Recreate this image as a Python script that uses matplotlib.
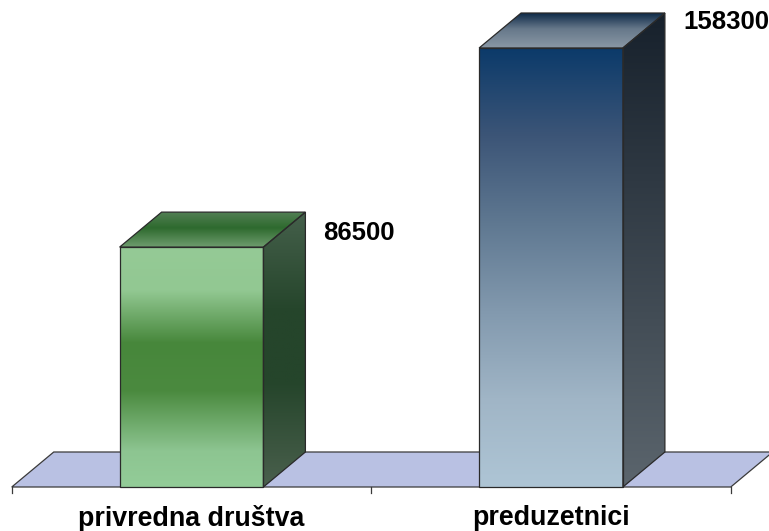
import numpy as np
import matplotlib
matplotlib.use("Agg")
import matplotlib.pyplot as plt
from matplotlib.patches import Polygon
from matplotlib.colors import to_rgb

categories = ["privredna društva", "preduzetnici"]
values = [86500, 158300]
value_labels = ["86500", "158300"]

# colour stops (position from bottom 0 -> top 1)
front_stops = [
    [(0.0, "#93CC98"), (0.15, "#8DC591"), (0.40, "#4B8A3F"), (0.60, "#47873B"),
     (0.82, "#92C892"), (1.0, "#95CA96")],
    [(0.0, "#AEC5D5"), (0.2, "#A0B5C6"), (0.4, "#8299AE"), (0.6, "#5F7891"),
     (0.8, "#3C5577"), (1.0, "#0B3A6A")],
]
side_stops = [
    [(0.0, "#4A604D"), (0.38, "#25452B"), (0.64, "#25452B"), (1.0, "#45604B")],
    [(0.0, "#5B656D"), (1.0, "#17212C")],
]
top_stops = [
    [(0.0, "#6E9C6E"), (0.55, "#2E6A2E"), (1.0, "#527F54")],
    [(0.0, "#8A98A5"), (0.55, "#66788A"), (1.0, "#0E2A48")],
]

fig = plt.figure(figsize=(7.69, 5.31), dpi=100)
ax = fig.add_axes([0, 0, 1, 1])
ax.set_axis_off()

# scales (value axis and category axis)
px_per_val = 439.0 / 158300
ytop = 158300 + 48 / px_per_val
ybot = -44 / px_per_val
px_per_cat = 359.5
x_left = -191.5 / px_per_cat
x_right = x_left + 769 / px_per_cat
ax.set_xlim(x_left, x_right)
ax.set_ylim(ybot, ytop)

dx = 42 / px_per_cat       # depth offset in x
dy = 35 / px_per_val       # depth offset in y
bw = 0.4                   # bar width


def grad_fill(poly_xy, stops, edge="#2a2a2a", z=2):
    poly_xy = np.asarray(poly_xy)
    xmin, ymin = poly_xy.min(axis=0)
    xmax, ymax = poly_xy.max(axis=0)
    n = 256
    t = np.linspace(0, 1, n)
    pos = [s[0] for s in stops]
    cols = np.array([to_rgb(s[1]) for s in stops])
    img = np.stack([np.interp(t, pos, cols[:, k]) for k in range(3)], axis=1)
    img = img[:, None, :]
    patch = Polygon(poly_xy, closed=True, facecolor="none", edgecolor=edge,
                    linewidth=0.9, zorder=z + 0.5)
    ax.add_patch(patch)
    im = ax.imshow(img, extent=[xmin, xmax, ymin, ymax], origin="lower",
                   aspect="auto", zorder=z, interpolation="bilinear")
    clip = Polygon(poly_xy, closed=True, transform=ax.transData)
    im.set_clip_path(clip)


# floor
fx0, fx1 = -0.5, len(categories) - 0.5
floor = Polygon([(fx0, 0), (fx1, 0), (fx1 + dx, dy), (fx0 + dx, dy)],
                closed=True, facecolor="#B9C1E3", edgecolor="#3a3a3a",
                linewidth=0.9, zorder=1)
ax.add_patch(floor)
tick_len = 6 / px_per_val
for xt in np.arange(fx0, fx1 + 0.01, 1.0):
    ax.plot([xt, xt], [0, -tick_len], color="#3a3a3a", linewidth=0.9, zorder=1.5)

for i, (v, lab) in enumerate(zip(values, value_labels)):
    x0, x1 = i - bw / 2, i + bw / 2
    front = [(x0, 0), (x1, 0), (x1, v), (x0, v)]
    side = [(x1, 0), (x1 + dx, dy), (x1 + dx, v + dy), (x1, v)]
    top = [(x0, v), (x1, v), (x1 + dx, v + dy), (x0 + dx, v + dy)]
    grad_fill(side, side_stops[i])
    grad_fill(front, front_stops[i])
    grad_fill(top, top_stops[i])
    ax.text(x1 + dx + 18 / px_per_cat, v * 1.06, lab,
            fontsize=18.5, fontweight="bold", family="Liberation Sans",
            ha="left", va="center", color="black", zorder=5)
    ax.text(i, -31 / px_per_val, categories[i], fontsize=19.3, fontweight="bold",
            family="Liberation Sans", ha="center", va="center", color="black",
            zorder=5)

fig.savefig("out.png", dpi=100)
